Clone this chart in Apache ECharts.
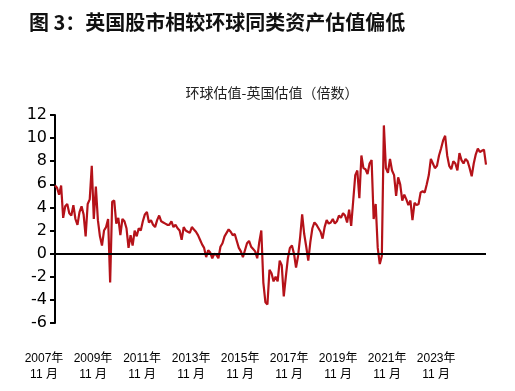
<!DOCTYPE html>
<html>
<head>
<meta charset="utf-8">
<script src="https://cdn.jsdelivr.net/npm/echarts@6/dist/echarts.min.js"></script>
<style>
html,body{margin:0;padding:0;background:#fff;}
#chart{width:515px;height:391px;}
</style>
</head>
<body>
<div id="chart"></div>
<script>
// Monthly series starting Nov 2007
var startYear = 2007, startMonth = 11;
var spread = [
5.9,5.7,5.1,5.9,3.1,4.1,4.3,3.5,3.3,4.2,
3.0,2.5,3.6,4.1,3.4,1.5,4.3,4.7,7.6,3.0,
5.8,2.9,1.5,0.7,2.0,2.3,3.0,-2.5,4.5,4.6,
2.6,3.1,1.6,3.0,2.8,2.2,0.5,1.6,0.7,2.0,
1.5,2.2,2.0,2.8,3.4,3.6,2.7,2.9,2.5,2.3,
2.9,3.3,2.8,2.7,2.6,2.5,2.5,2.8,2.3,2.5,
2.2,2.0,1.2,2.3,2.0,1.9,1.8,2.3,2.1,1.9,
1.6,1.2,0.8,0.5,-0.3,0.3,0.1,-0.4,0.0,-0.1,
-0.4,0.6,0.9,1.5,1.8,2.1,1.9,1.6,1.7,1.1,
0.5,0.2,-0.3,0.3,0.9,1.1,0.6,0.4,0.2,-0.4,
1.0,2.0,-2.5,-4.2,-4.4,-1.4,-1.7,-2.4,-2.0,-2.4,
-0.6,-1.0,-3.7,-2.0,-0.4,0.5,0.7,0.0,-1.2,-0.2,
1.4,3.4,1.7,0.6,-0.6,1.0,2.2,2.7,2.5,2.2,
1.9,1.3,2.3,2.9,2.6,2.7,3.0,2.6,2.8,3.3,
3.1,3.5,3.3,2.7,3.8,2.4,4.6,6.8,7.2,4.8,
8.5,7.4,7.3,6.9,7.8,8.1,3.0,4.3,0.5,-0.9,
-0.2,11.1,7.4,7.0,8.2,7.2,6.8,5.0,6.6,6.0,
4.6,5.1,4.7,4.2,4.6,2.9,4.4,4.2,4.3,5.3,
5.4,5.3,6.0,6.8,8.2,7.8,7.4,7.6,8.5,9.1,
9.8,10.2,8.5,7.6,7.3,8.0,7.8,7.2,8.7,8.1,
7.8,8.2,8.0,7.4,6.7,7.8,8.6,9.1,8.8,8.9,
9.0,7.7
];
var tickLabels = ['2007年\n11 月','2009年\n11 月','2011年\n11 月','2013年\n11 月','2015年\n11 月','2017年\n11 月','2019年\n11 月','2021年\n11 月','2023年\n11 月'];
var labelEvery = 24;
var yTicks = {min: -6, max: 12, interval: 2};

var categories = [];
for (var i = 0; i < spread.length; i++) {
  var m = startMonth - 1 + i;
  var y = startYear + Math.floor(m / 12);
  categories.push(y + '-' + ((m % 12) + 1));
}

var chart = echarts.init(document.getElementById('chart'), null, {renderer: 'canvas'});
var xFont = '"Liberation Sans", "Noto Sans CJK SC", sans-serif';
var yFont = '"DejaVu Sans", "Liberation Sans", sans-serif';

// two interleaved label axes (even / odd label slots) so labels never collide
function makeXAxis(phase) {
  return {
    type: 'category',
    data: categories,
    boundaryGap: false,
    position: 'bottom',
    axisLine: {show: false, onZero: false},
    axisTick: {show: false},
    splitLine: {show: false},
    axisLabel: {
      interval: function (idx) { return idx % (2 * labelEvery) === phase * labelEvery; },
      formatter: function (v, idx) { return idx % labelEvery === 0 ? tickLabels[idx / labelEvery] : ''; },
      hideOverlap: false,
      margin: 28,
      color: '#000',
      fontSize: 12,
      lineHeight: 16,
      fontFamily: xFont,
      padding: [0, 11, 0, -11]
    }
  };
}

chart.setOption({
  animation: false,
  backgroundColor: '#fff',
  title: {
    text: '图 3：英国股市相较环球同类资产估值偏低',
    left: 24, top: 7,
    textStyle: {fontSize: 20, fontWeight: 'bold', color: '#111', fontFamily: '"Noto Sans CJK SC", sans-serif'}
  },
  graphic: [{
    type: 'text', x: 272, y: 93,
    style: {text: '环球估值-英国估值（倍数）', fill: '#222', font: '14px "Noto Sans CJK SC", sans-serif', textAlign: 'center', textVerticalAlign: 'middle'}
  }],
  grid: {left: 55, right: 29, top: 115, bottom: 68},
  xAxis: [makeXAxis(0), makeXAxis(1)],
  yAxis: {
    type: 'value',
    min: yTicks.min, max: yTicks.max, interval: yTicks.interval,
    axisLine: {show: true, lineStyle: {color: '#000', width: 2}},
    axisTick: {show: true, length: 5, lineStyle: {color: '#000', width: 2}},
    splitLine: {show: false},
    axisLabel: {color: '#000', fontSize: 16, margin: 8, fontFamily: yFont}
  },
  series: [{
    type: 'line',
    xAxisIndex: 0,
    data: spread,
    showSymbol: false,
    symbol: 'none',
    lineStyle: {color: '#B51219', width: 2.2},
    itemStyle: {color: '#B51219'},
    markLine: {
      silent: true,
      symbol: ['none', 'none'],
      label: {show: false},
      lineStyle: {color: '#000', width: 2, type: 'solid'},
      data: [{yAxis: 0}]
    }
  }]
});
</script>
</body>
</html>
